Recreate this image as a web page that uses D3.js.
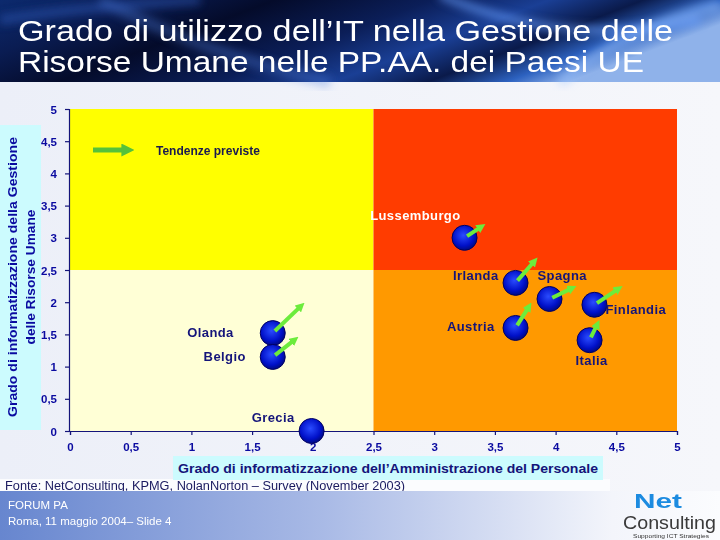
<!DOCTYPE html>
<html>
<head>
<meta charset="utf-8">
<script src="https://cdnjs.cloudflare.com/ajax/libs/d3/7.8.5/d3.min.js"></script>
<style>
  body { margin: 0; background: #fff; }
  svg { display: block; font-family: "Liberation Sans", Arial, sans-serif; }
</style>
</head>
<body>
<div id="chart"></div>
<script>
// data
const countries = ['Lussemburgo', 'Irlanda', 'Spagna', 'Finlandia', 'Austria', 'Italia', 'Olanda', 'Belgio', 'Grecia'];
const amministrazione = [3.25, 3.67, 3.95, 4.32, 3.67, 4.28, 1.67, 1.67, 1.99];
const gestioneRU = [3.0, 2.3, 2.05, 1.96, 1.6, 1.41, 1.52, 1.15, 0.0];
// expected trend (arrow tips)
const trendX = [3.42, 3.85, 4.17, 4.55, 3.80, 4.36, 1.93, 1.88, null];
const trendY = [3.21, 2.69, 2.25, 2.25, 1.99, 1.72, 1.99, 1.46, null];
const ticks = [0, 0.5, 1, 1.5, 2, 2.5, 3, 3.5, 4, 4.5, 5];
const quadrants = [
  {x0: 0, x1: 2.5, y0: 2.5, y1: 5, color: '#ffff00'},
  {x0: 2.5, x1: 5, y0: 2.5, y1: 5, color: '#ff3c00'},
  {x0: 0, x1: 2.5, y0: 0, y1: 2.5, color: '#ffffd6'},
  {x0: 2.5, x1: 5, y0: 0, y1: 2.5, color: '#ff9900'}
];

// label placement relative to each bubble
const labelPos = {
  Lussemburgo: {dx: -4, dy: -18, anchor: 'end', fill: '#ffffff'},
  Irlanda: {dx: -17, dy: -3, anchor: 'end'},
  Spagna: {dx: -12, dy: -19, anchor: 'start'},
  Finlandia: {dx: 11, dy: 9, anchor: 'start'},
  Austria: {dx: -21, dy: 3, anchor: 'end'},
  Italia: {dx: 2, dy: 25, anchor: 'middle'},
  Olanda: {dx: -39, dy: 4, anchor: 'end'},
  Belgio: {dx: -27, dy: 4, anchor: 'end'},
  Grecia: {dx: -17, dy: -9, anchor: 'end'}
};

const W = 720, H = 540;
const navy = '#14147a';
const svg = d3.select('#chart').append('svg').attr('width', W).attr('height', H);
const defs = svg.append('defs');

// -------------------
// background
const bg = defs.append('linearGradient').attr('id', 'bg');
bg.append('stop').attr('offset', '0%').attr('stop-color', '#eceff8');
bg.append('stop').attr('offset', '100%').attr('stop-color', '#f6f7fb');
svg.append('rect').attr('width', W).attr('height', H).attr('fill', 'url(#bg)');

// title banner
const ban = defs.append('linearGradient').attr('id', 'ban').attr('x1', 0).attr('y1', 0).attr('x2', 1).attr('y2', 0.3);
[['0%', '#0c2a6e'], ['18%', '#0a1c52'], ['35%', '#040b2a'], ['55%', '#0b1e58'], ['70%', '#1a3f95'], ['82%', '#0a1a4a'], ['92%', '#2d62c0'], ['100%', '#8fb2ea']]
  .forEach(s => ban.append('stop').attr('offset', s[0]).attr('stop-color', s[1]));
svg.append('rect').attr('width', W).attr('height', 82).attr('fill', 'url(#ban)');

defs.append('filter').attr('id', 'blur').append('feGaussianBlur').attr('stdDeviation', 4);
const streaks = svg.append('g').attr('filter', 'url(#blur)').attr('fill', 'none');
streaks.append('path').attr('d', 'M440,-5 C520,30 600,40 700,20').attr('stroke', '#6aa0ff').attr('stroke-width', 8).attr('opacity', 0.6);
streaks.append('path').attr('d', 'M560,82 C600,50 650,20 720,5').attr('stroke', '#9cc4ff').attr('stroke-width', 10).attr('opacity', 0.5);
streaks.append('path').attr('d', 'M100,0 C160,30 230,60 330,82').attr('stroke', '#4f7fe0').attr('stroke-width', 12).attr('opacity', 0.35);
streaks.append('path').attr('d', 'M0,20 C60,10 120,5 200,0').attr('stroke', '#3a6ad0').attr('stroke-width', 10).attr('opacity', 0.4);

const title = svg.append('g').attr('fill', '#fff').style('font-size', '30px');
title.append('text').attr('x', 18).attr('y', 41).attr('textLength', 655).attr('lengthAdjust', 'spacingAndGlyphs')
  .text('Grado di utilizzo dell’IT nella Gestione delle');
title.append('text').attr('x', 18).attr('y', 72).attr('textLength', 626).attr('lengthAdjust', 'spacingAndGlyphs')
  .text('Risorse Umane nelle PP.AA. dei Paesi UE');

// -------------------
// scales
const x = d3.scaleLinear().domain([0, 5]).range([70, 677]);
const y = d3.scaleLinear().domain([0, 5]).range([431, 109]);

svg.append('g').selectAll('rect')
  .data(quadrants)
  .enter()
  .append('rect')
  .attr('x', d => x(d.x0))
  .attr('y', d => y(d.y1))
  .attr('width', d => x(d.x1) - x(d.x0))
  .attr('height', d => y(d.y0) - y(d.y1))
  .attr('fill', d => d.color);

const fmt = d => String(d).replace('.', ',');

const xAxis = svg.append('g')
  .attr('transform', `translate(0,${y(0)})`)
  .call(d3.axisBottom(x).tickValues(ticks).tickFormat(fmt).tickSize(4).tickPadding(8));
const yAxis = svg.append('g')
  .attr('transform', `translate(${x(0) - 1},0)`)
  .call(d3.axisLeft(y).tickValues(ticks).tickFormat(fmt).tickSize(4).tickPadding(8));
[xAxis, yAxis].forEach(a => {
  a.selectAll('path, line').attr('stroke', navy).attr('stroke-width', 1.2);
  a.selectAll('text').attr('fill', '#0a0aa0').style('font-size', '11.5px').style('font-weight', 'bold');
});
yAxis.selectAll('text').attr('dy', '0.35em');

// white strip behind the source line
svg.append('rect').attr('x', 0).attr('y', 479).attr('width', 610).attr('height', 12).attr('fill', '#fbfcfe');

// axis titles
svg.append('rect').attr('x', 173).attr('y', 456).attr('width', 430).attr('height', 24).attr('fill', '#ccfbfe');
svg.append('text').attr('x', 388).attr('y', 473).attr('text-anchor', 'middle')
  .attr('fill', navy).style('font-size', '12.5px').style('font-weight', 'bold')
  .attr('textLength', 420).attr('lengthAdjust', 'spacingAndGlyphs')
  .text('Grado di informatizzazione dell’Amministrazione del Personale');

svg.append('rect').attr('x', 0).attr('y', 125).attr('width', 41).attr('height', 305).attr('fill', '#ccfbfe');
const yt = svg.append('g').attr('fill', '#0a0aa0').style('font-size', '12px').style('font-weight', 'bold');
yt.append('text').attr('transform', 'translate(17,277) rotate(-90)').attr('text-anchor', 'middle')
  .attr('textLength', 280).attr('lengthAdjust', 'spacingAndGlyphs')
  .text('Grado di informatizzazione della Gestione');
yt.append('text').attr('transform', 'translate(35,277) rotate(-90)').attr('text-anchor', 'middle')
  .attr('textLength', 135).attr('lengthAdjust', 'spacingAndGlyphs')
  .text('delle Risorse Umane');

// -------------------
// legend
defs.append('marker').attr('id', 'headLeg').attr('viewBox', '0 0 10 10').attr('refX', 2).attr('refY', 5)
  .attr('markerWidth', 2.6).attr('markerHeight', 2.6).attr('orient', 'auto')
  .append('path').attr('d', 'M0,0 L10,5 L0,10 z').attr('fill', '#55c23a');
svg.append('line').attr('x1', 93).attr('y1', 150).attr('x2', 124).attr('y2', 150)
  .attr('stroke', '#55c23a').attr('stroke-width', 5).attr('marker-end', 'url(#headLeg)');
svg.append('text').attr('x', 156).attr('y', 155).attr('fill', '#1a1a50')
  .style('font-size', '12px').style('font-weight', 'bold').text('Tendenze previste');

// -------------------
// bubbles and trends
const grad = defs.append('radialGradient').attr('id', 'ball').attr('cx', '45%').attr('cy', '40%').attr('r', '60%');
grad.append('stop').attr('offset', '0%').attr('stop-color', '#2a4cff');
grad.append('stop').attr('offset', '70%').attr('stop-color', '#0010c8');
grad.append('stop').attr('offset', '100%').attr('stop-color', '#000a80');

defs.append('marker').attr('id', 'head').attr('viewBox', '0 0 10 10').attr('refX', 1).attr('refY', 5)
  .attr('markerWidth', 2.3).attr('markerHeight', 2.3).attr('orient', 'auto')
  .append('path').attr('d', 'M0,0 L10,5 L0,10 z').attr('fill', '#6cec3c');

const pts = countries.map((c, i) => ({name: c, x: amministrazione[i], y: gestioneRU[i], tx: trendX[i], ty: trendY[i]}));

svg.append('g').selectAll('circle')
  .data(pts)
  .enter()
  .append('circle')
  .attr('cx', d => x(d.x))
  .attr('cy', d => y(d.y))
  .attr('r', 12.5)
  .attr('fill', 'url(#ball)')
  .attr('stroke', '#000060')
  .attr('stroke-width', 1);

// arrow from bubble centre to the expected point, shortened by the head length
function arrowEnds(d) {
  const x0 = x(d.x), y0 = y(d.y), x1 = x(d.tx), y1 = y(d.ty);
  const len = Math.hypot(x1 - x0, y1 - y0);
  const ux = (x1 - x0) / len, uy = (y1 - y0) / len;
  return {x1: x0 + ux * 3, y1: y0 + uy * 3, x2: x1 - ux * 8, y2: y1 - uy * 8};
}

svg.append('g').selectAll('line')
  .data(pts.filter(d => d.tx != null))
  .enter()
  .append('line')
  .attr('x1', d => arrowEnds(d).x1)
  .attr('y1', d => arrowEnds(d).y1)
  .attr('x2', d => arrowEnds(d).x2)
  .attr('y2', d => arrowEnds(d).y2)
  .attr('stroke', '#6cec3c')
  .attr('stroke-width', 4)
  .attr('marker-end', 'url(#head)');

svg.append('g').selectAll('text')
  .data(pts)
  .enter()
  .append('text')
  .attr('x', d => x(d.x) + labelPos[d.name].dx)
  .attr('y', d => y(d.y) + labelPos[d.name].dy)
  .attr('text-anchor', d => labelPos[d.name].anchor)
  .attr('fill', d => labelPos[d.name].fill || navy)
  .style('font-size', '13px')
  .style('font-weight', 'bold')
  .style('letter-spacing', '0.4px')
  .text(d => d.name);

// -------------------
// footer
svg.append('text').attr('x', 5).attr('y', 490).attr('fill', '#1a1a60')
  .style('font-size', '12px').attr('textLength', 400).attr('lengthAdjust', 'spacingAndGlyphs')
  .text('Fonte: NetConsulting, KPMG, NolanNorton – Survey (November 2003)');

const foot = defs.append('linearGradient').attr('id', 'foot');
foot.append('stop').attr('offset', '0%').attr('stop-color', '#6786cf');
foot.append('stop').attr('offset', '45%').attr('stop-color', '#a9bae6');
foot.append('stop').attr('offset', '85%').attr('stop-color', '#f3f5fb');
foot.append('stop').attr('offset', '100%').attr('stop-color', '#fbfcfe');
svg.append('rect').attr('x', 0).attr('y', 491).attr('width', W).attr('height', 49).attr('fill', 'url(#foot)');
svg.append('text').attr('x', 8).attr('y', 509).attr('fill', '#fff').style('font-size', '11.5px').text('FORUM PA');
svg.append('text').attr('x', 8).attr('y', 525).attr('fill', '#fff').style('font-size', '11.5px').text('Roma, 11 maggio 2004– Slide 4');

// logo
svg.append('text').attr('x', 634).attr('y', 508).attr('fill', '#1c8be0').style('font-size', '21px')
  .style('font-weight', 'bold').attr('textLength', 48).attr('lengthAdjust', 'spacingAndGlyphs').text('Net');
svg.append('text').attr('x', 623).attr('y', 529).attr('fill', '#3a3a3a').style('font-size', '19px')
  .attr('textLength', 93).attr('lengthAdjust', 'spacingAndGlyphs').text('Consulting');
svg.append('text').attr('x', 633).attr('y', 538).attr('fill', '#333').style('font-size', '6px')
  .attr('textLength', 76).attr('lengthAdjust', 'spacingAndGlyphs').text('Supporting ICT Strategies');
</script>
</body>
</html>
